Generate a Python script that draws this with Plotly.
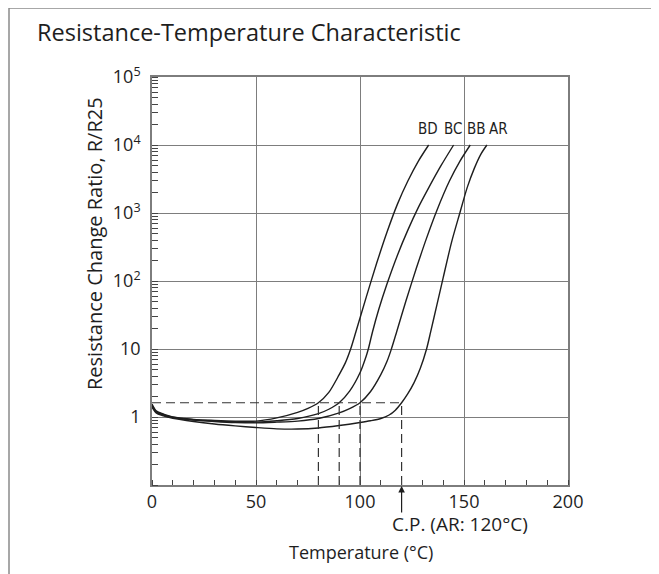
import plotly.graph_objects as go

# ---- data ----
T_BD = [0, 2, 5, 10, 20, 30, 40, 50, 60, 70, 75, 80, 85, 90, 93, 95.5, 98, 103, 108, 113, 118, 123, 128, 133]
R_BD = [1.55, 1.23, 1.12, 1.0, 0.92, 0.89, 0.87, 0.87, 0.97, 1.17, 1.34, 1.62, 2.3, 4.2, 6.3, 10, 17.8, 58, 182, 525, 1350, 2950, 5750, 10000]

T_BC = [0, 2, 5, 10, 20, 30, 40, 50, 60, 70, 80, 85, 90, 95, 100, 103, 104, 106, 109, 113, 118, 123, 128, 133, 139, 145]
R_BC = [1.5, 1.2, 1.1, 0.99, 0.91, 0.87, 0.85, 0.84, 0.88, 0.95, 1.12, 1.3, 1.62, 2.4, 4.47, 7.9, 10, 17.8, 38, 91, 240, 560, 1200, 2340, 5000, 10000]

T_BB = [0, 2, 5, 10, 20, 30, 40, 50, 60, 70, 80, 90, 95, 100, 105, 110, 113, 115, 117.6, 122, 127, 132, 137, 143, 148, 153]
R_BB = [1.45, 1.18, 1.08, 0.98, 0.9, 0.86, 0.83, 0.82, 0.84, 0.87, 0.95, 1.15, 1.33, 1.62, 2.35, 4.2, 6.6, 9.8, 17.8, 50, 151, 427, 1100, 2950, 5750, 10000]

T_AR = [0, 2, 5, 10, 20, 30, 40, 50, 60, 70, 80, 90, 100, 105, 110, 114, 117, 120, 123, 126, 129, 132, 134, 137, 140, 144, 148, 151.6, 155, 158, 161]
R_AR = [1.4, 1.15, 1.05, 0.96, 0.86, 0.79, 0.74, 0.7, 0.67, 0.665, 0.69, 0.75, 0.83, 0.88, 0.95, 1.07, 1.26, 1.62, 2.2, 3.2, 5.2, 10, 18, 45, 112, 370, 1000, 2400, 4570, 7240, 10000]

series_names = ["BD", "BC", "BB", "AR"]
series_T = [T_BD, T_BC, T_BB, T_AR]
series_R = [R_BD, R_BC, R_BB, R_AR]

cp_temps = [80, 90, 100, 120]
cp_ratio = 1.62
y_floor = 0.1

x_ticks = [0, 50, 100, 150, 200]
y_tickvals = [1, 10, 100, 1000, 10000, 100000]
y_ticktext = ["1", "10", "10<sup>2</sup>", "10<sup>3</sup>", "10<sup>4</sup>", "10<sup>5</sup>"]

label_T = [132.7, 144.7, 155.8, 166.8]

FONT = "Open Sans, Noto Sans, sans-serif"
INK = "#1e1e1e"
GRID = "#7d7d7d"

fig = go.Figure()

for name, t, r in zip(series_names, series_T, series_R):
    fig.add_trace(go.Scatter(x=t, y=r, mode="lines", name=name,
                             line=dict(color=INK, width=1.4, shape="spline", smoothing=0.8),
                             showlegend=False, hoverinfo="skip"))

# dashed CP guide lines
fig.add_trace(go.Scatter(x=[0, max(cp_temps)], y=[cp_ratio, cp_ratio], mode="lines",
                         line=dict(color="#333333", width=1.2, dash="9px,5px"),
                         showlegend=False, hoverinfo="skip"))
for t in cp_temps:
    fig.add_trace(go.Scatter(x=[t, t], y=[y_floor, cp_ratio], mode="lines",
                             line=dict(color="#333333", width=1.2, dash="9px,5px"),
                             showlegend=False, hoverinfo="skip"))

fig.update_xaxes(range=[0, 200], tickvals=x_ticks, ticks="", showgrid=True,
                 gridcolor=GRID, gridwidth=1.2, zeroline=False,
                 showline=True, mirror=True, linecolor=GRID, linewidth=1.6,
                 tickfont=dict(family=FONT, size=18, color=INK),
                 minor=dict(dtick=10, ticks="inside", ticklen=5, tickcolor="#444444",
                            tickwidth=1, showgrid=False))
fig.update_yaxes(type="log", range=[-1, 5], tickvals=y_tickvals, ticktext=y_ticktext,
                 ticks="", showgrid=True, gridcolor=GRID, gridwidth=1.2, zeroline=False,
                 showline=True, mirror=True, linecolor=GRID, linewidth=1.6,
                 ticklabelstandoff=6,
                 tickfont=dict(family=FONT, size=18, color=INK),
                 minor=dict(dtick="D1", ticks="inside", ticklen=6, tickcolor="#444444",
                            tickwidth=1, showgrid=False))

# page body adds an 8px offset; screen coordinates are converted below
OFF = 8
W, H = 659, 574
L, T_ = 152 - OFF, 77 - OFF
pw, ph = 416, 408
R_ = W - L - pw
B = H - T_ - ph

def px(xs):
    return (xs - OFF - L) / pw

def py(ys):
    return (T_ + ph - (ys - OFF)) / ph

annotations = [
    dict(text="Resistance-Temperature Characteristic", xref="paper", yref="paper",
         x=px(35), y=py(32), xanchor="left", yanchor="middle", showarrow=False,
         font=dict(family=FONT, size=23.5, color=INK)),
    dict(text="Resistance Change Ratio, R/R25", xref="paper", yref="paper",
         x=px(94), y=py(244), textangle=-90, xanchor="center", yanchor="middle",
         showarrow=False, font=dict(family=FONT, size=20, color=INK)),
    dict(text="Temperature (°C)", xref="paper", yref="paper",
         x=px(361), y=py(552), xanchor="center", yanchor="middle",
         showarrow=False, font=dict(family=FONT, size=18, color=INK)),
    dict(text="C.P. (AR: 120°C)", xref="paper", yref="paper",
         x=px(390), y=py(524), xanchor="left", yanchor="middle",
         showarrow=False, font=dict(family=FONT, size=19, color=INK)),
    dict(text="", x=cp_temps[-1], xref="x", y=0, yref="paper", showarrow=True,
         ax=0, ay=29, arrowhead=2, arrowsize=1.1, arrowwidth=1.2, arrowcolor=INK, standoff=1),
]
for name, lt in zip(series_names, label_T):
    annotations.append(dict(text=name, x=lt, xref="x", y=4.23, yref="y",
                            xanchor="center", yanchor="middle", showarrow=False,
                            font=dict(family="Liberation Sans Narrow, DejaVu Sans Condensed, sans-serif",
                                      size=15, color=INK)))

fig.update_layout(
    width=W, height=H, autosize=False,
    margin=dict(l=L, r=R_, t=T_, b=B, pad=0),
    paper_bgcolor="white", plot_bgcolor="white",
    annotations=annotations,
    shapes=[dict(type="rect", xref="paper", yref="paper",
                 x0=px(9), x1=px(652), y0=py(620), y1=py(8),
                 line=dict(color="#8a8a8a", width=1.5), fillcolor="rgba(0,0,0,0)", layer="below")],
)

fig.write_html("out.html")
